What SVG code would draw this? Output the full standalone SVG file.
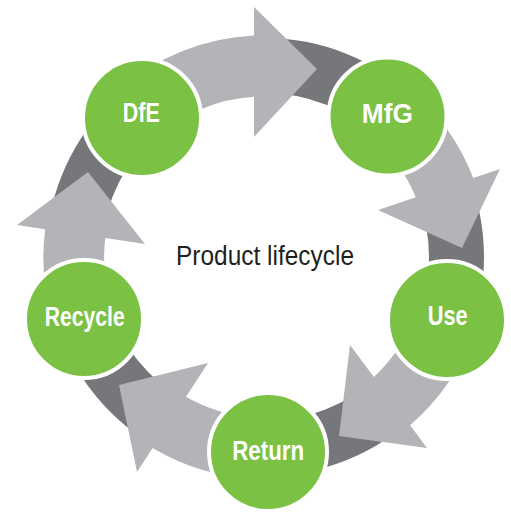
<svg xmlns="http://www.w3.org/2000/svg" width="511" height="512" viewBox="0 0 511 512">
  <style>
    .ring { fill: none; stroke: #76777b; stroke-width: 55; }
    .arrow { fill: #b3b4b8; stroke: none; }
    .node { fill: #7bc143; stroke: #ffffff; stroke-width: 4; }
    .label { font-family: "Liberation Sans", Arial, sans-serif; font-weight: bold; font-size: 27px; fill: #ffffff; text-anchor: middle; }
    .title { font-family: "Liberation Sans", Arial, sans-serif; font-size: 27px; fill: #231f20; }
  </style>
  <rect width="511" height="512" fill="#ffffff"/>
  <g id="connectors">
    <circle class="ring" cx="265" cy="257" r="191.5"/>
    <path id="arrow-dfe-mfg" class="arrow" d="M117.9,90.7 A222,222 0 0 1 254,35.6 L254,7 L317,69 L254,137 L254,96.7 A161,161 0 0 0 158.3,136.4 Z"/>
    <path id="arrow-mfg-use" class="arrow" d="M410.7,89.5 A222,222 0 0 1 473.2,178 L500,169 L462,248 L378,210 L415.8,197.3 A161,161 0 0 0 370.6,135.5 Z"/>
    <path id="arrow-use-return" class="arrow" d="M474.8,329.6 A222,222 0 0 1 410.1,425.3 L427,448 L339,436 L350,345 L373.9,376.9 A161,161 0 0 0 417.1,309.7 Z"/>
    <path id="arrow-return-recycle" class="arrow" d="M268.5,479 A222,222 0 0 1 152.6,448 L137,472 L119,385 L208,363 L186,396.8 A161,161 0 0 0 267.5,418 Z"/>
    <path id="arrow-recycle-dfe" class="arrow" d="M55,328.9 A222,222 0 0 1 45.2,229.2 L17,225 L88,172 L145,244 L105.3,238.1 A161,161 0 0 0 112.7,309.1 Z"/>
  </g>
  <g id="node-dfe">
    <circle class="node" cx="142" cy="118" r="59"/>
    <text class="label" x="141.3" y="121.7" textLength="37" lengthAdjust="spacingAndGlyphs">DfE</text>
  </g>
  <g id="node-mfg">
    <circle class="node" cx="387.5" cy="116.5" r="59"/>
    <text class="label" x="387.3" y="122.7" textLength="51" lengthAdjust="spacingAndGlyphs">MfG</text>
  </g>
  <g id="node-use">
    <circle class="node" cx="447" cy="320" r="59"/>
    <text class="label" x="447.7" y="325" textLength="40" lengthAdjust="spacingAndGlyphs">Use</text>
  </g>
  <g id="node-return">
    <circle class="node" cx="268" cy="452" r="59"/>
    <text class="label" x="268.2" y="460" textLength="72" lengthAdjust="spacingAndGlyphs">Return</text>
  </g>
  <g id="node-recycle">
    <circle class="node" cx="84" cy="319" r="59"/>
    <text class="label" x="84.7" y="325.7" textLength="80" lengthAdjust="spacingAndGlyphs">Recycle</text>
  </g>
  <g id="center-label">
    <text class="title" x="176" y="265" textLength="178" lengthAdjust="spacingAndGlyphs">Product lifecycle</text>
  </g>
</svg>
